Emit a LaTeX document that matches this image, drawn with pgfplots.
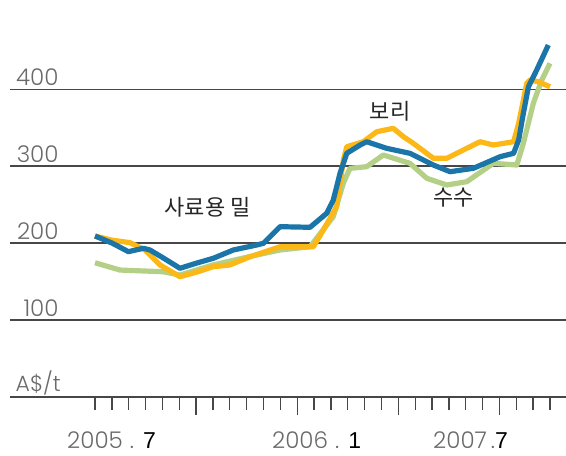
\documentclass[border=0pt]{standalone}
\usepackage{fontspec}
\usepackage{pgfplots}
\pgfplotsset{compat=1.18}
\setmainfont{Poppins}[UprightFont=* Light]
\newfontfamily\kr{Noto Sans CJK KR}
\newfontfamily\msans{Liberation Sans}
\definecolor{cblue}{HTML}{1B75A8}
\definecolor{corange}{HTML}{FBB817}
\definecolor{cgreen}{HTML}{B4CF86}
\definecolor{cgrid}{HTML}{474747}
\definecolor{clab}{HTML}{6A6A6A}
\begin{document}
\begin{tikzpicture}
\useasboundingbox (-10pt,-59pt) rectangle (556pt,397pt);
\begin{axis}[
  scale only axis, width=556pt, height=397pt,
  xmin=-5.045, xmax=27.95, ymin=0, ymax=516.3,
  axis line style={draw=none},
  clip=false,
  ytick={0,100,200,300,400}, yticklabels={}, ytick style={draw=none},
  ymajorgrids, major grid style={cgrid, line width=1.8pt},
  xtick={0,1,2,3,4,5,7,8,9,10,11,13,14,15,16,17,19,20,21,22,23,25,26,27},
  xticklabels={},
  extra x ticks={6,12,18,24}, extra x tick labels={},
  xtick pos=left, tick align=outside, major tick length=13pt,
  xtick style={cgrid, line width=1.3pt},
  extra x tick style={major tick length=18pt},
  every axis plot/.append style={line width=5.2pt, line join=round, no markers},
]
% sorghum (green)
\addplot[cgreen] coordinates {
(0,174.6) (1.48,165.1) (4.04,162.9) (5.04,158.6) (7.0,171.7) (9.6,184.7)
(10.98,191.2) (12.76,195.4) (14.14,234.5) (14.74,278.3) (15.13,297.4)
(16.12,299.5) (17.11,314.7) (18.69,303.9) (19.69,284.4) (20.87,275.7)
(22.06,280) (23.64,303.9) (25.03,301.7) (25.42,329.9) (26.01,381.9)
(26.51,412.2) (27.0,433.9)};
% barley (orange)
\addplot[corange] coordinates {
(0,209.4) (1,204) (2.08,200.7) (2.97,191.2) (3.86,171.7) (5.04,156.4)
(6.05,162.5) (7.0,169.4) (8.0,171.7) (9.2,182.4) (10.98,195.4) (12.96,195.4)
(13.55,217.2) (14.34,247.5) (14.74,308.2) (14.94,325.5) (15.92,332)
(16.72,345) (17.7,349.4) (18.3,338.5) (18.89,329.9) (20.08,310.4)
(20.87,310.4) (22.85,332) (23.64,327.7) (24.84,332) (25.14,355.9)
(25.62,407.9) (25.82,412.2) (26.31,410) (27.0,403.5)};
% feed wheat (blue)
\addplot[cblue] coordinates {
(0,209.4) (1,200.3) (1.98,189) (2.87,193.4) (3.26,191.2) (4.15,179.5)
(5.04,167.4) (6.05,174.3) (7.02,180.4) (8.21,191.2) (9.6,197.7) (10.0,199.9)
(10.98,221.5) (12.76,220.7) (13.75,238.9) (14.14,256.2) (14.54,290.9)
(14.94,316.9) (15.73,327.7) (16.12,332) (17.31,323.4) (18.69,316.9)
(20.08,301.7) (21.07,293) (22.45,297.4) (24.04,312.5) (24.84,316.9)
(25.14,334.2) (25.42,368.9) (25.72,403.5) (26.21,425.2) (26.9,457.7)};
% y labels
\foreach \v in {100,200,300,400}{
  \edef\temp{\noexpand\node[anchor=base east, inner sep=0pt, text=clab,
    font=\noexpand\fontsize{23}{23}\noexpand\selectfont] at (axis cs:-2.15,\v+5.2) {\v};}
  \temp
}
\node[anchor=base west, inner sep=0pt, text=clab, font=\fontsize{22}{22}\selectfont]
  at (axis cs:-4.72,6.9) {A\$/t};
% x labels
\node[anchor=base west, inner sep=0pt, text=clab, font=\fontsize{23}{23}\selectfont]
  at (axis cs:-1.66,-67.6) {2005\hspace{7pt}.\hspace{9pt}{\msans\color{black}7}};
\node[anchor=base west, inner sep=0pt, text=clab, font=\fontsize{23}{23}\selectfont]
  at (axis cs:10.5,-67.6) {2006\hspace{7pt}.\hspace{9pt}{\msans\color{black}1}};
\node[anchor=base west, inner sep=0pt, text=clab, font=\fontsize{23}{23}\selectfont]
  at (axis cs:20.06,-67.6) {2007\hspace{4pt}.{\msans\color{black}7}};
% series labels
\node[text=black!85, inner sep=0pt, font=\kr\fontsize{22}{22}\selectfont]
  at (axis cs:6.68,247.1) {사료용 밀};
\node[text=black!85, inner sep=0pt, font=\kr\fontsize{22}{22}\selectfont]
  at (axis cs:17.51,371.9) {보리};
\node[text=black!85, inner sep=0pt, font=\kr\fontsize{22}{22}\selectfont]
  at (axis cs:21.28,259.4) {수수};
\end{axis}
\end{tikzpicture}
\end{document}
